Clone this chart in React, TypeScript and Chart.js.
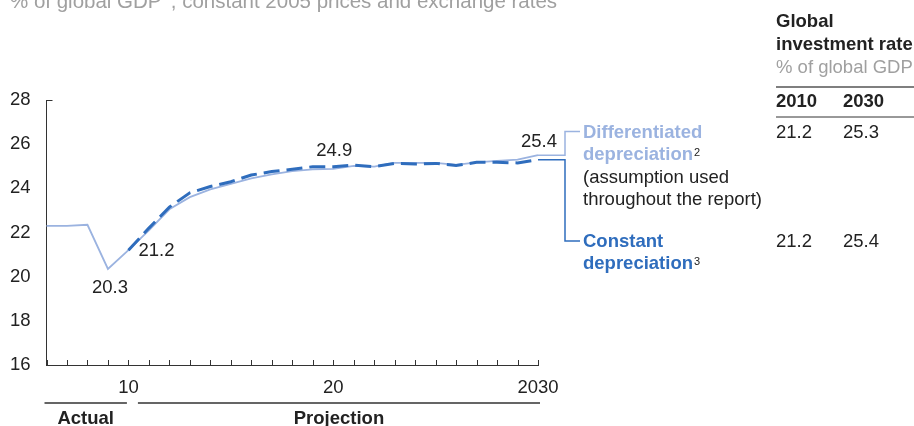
import React, { useEffect, useRef } from "react";
import { Chart, registerables } from "chart.js";
Chart.register(...registerables);

const years = [2006, 2007, 2008, 2009, 2010, 2011, 2012, 2013, 2014, 2015, 2016, 2017, 2018, 2019, 2020, 2021, 2022, 2023, 2024, 2025, 2026, 2027, 2028, 2029, 2030];
const differentiated = [22.3, 22.3, 22.35, 20.35, 21.2, 22.1, 23.05, 23.6, 23.95, 24.2, 24.45, 24.63, 24.78, 24.86, 24.88, 25.02, 24.98, 25.15, 25.15, 25.15, 25.06, 25.18, 25.24, 25.3, 25.5];
const constant = [null, null, null, null, 21.2, 22.2, 23.15, 23.8, 24.08, 24.3, 24.6, 24.76, 24.86, 24.98, 24.98, 25.05, 24.98, 25.13, 25.1, 25.13, 25.03, 25.18, 25.18, 25.15, 25.3];
const xTickLabels: Record<number, string> = { 2010: "10", 2020: "20", 2030: "2030" };
const yTicks = [16, 18, 20, 22, 24, 26, 28];
const tableYears = ["2010", "2030"];
const differentiatedTable = ["21.2", "25.3"];
const constantTable = ["21.2", "25.4"];
const pointLabels = [
  { year: 2009, series: "differentiated", text: "20.3" },
  { year: 2010, series: "constant", text: "21.2" },
  { year: 2020, series: "constant", text: "24.9" },
  { year: 2030, series: "differentiated", text: "25.4" },
];

const FONT = "'Liberation Sans', Arial, sans-serif";
const LIGHT = "#9bb3e0";
const DARK = "#2f6dbd";
const TEXT = "#222222";
const GRAY = "#a0a0a0";
const AXIS = "#333333";

function txt(ctx: CanvasRenderingContext2D, s: string, x: number, y: number, font: string, color: string, align: CanvasTextAlign = "left") {
  ctx.font = font;
  ctx.fillStyle = color;
  ctx.textAlign = align;
  ctx.textBaseline = "alphabetic";
  ctx.fillText(s, x, y);
  return ctx.measureText(s).width;
}

const overlay = {
  id: "overlay",
  afterDraw(chart: any) {
    const ctx: CanvasRenderingContext2D = chart.ctx;
    const xs = chart.scales.x;
    const ys = chart.scales.y;
    const area = chart.chartArea;
    const xp = (yr: number) => xs.getPixelForValue(years.indexOf(yr));
    const yv = (series: string, yr: number) => {
      const arr = series === "constant" ? constant : differentiated;
      return ys.getPixelForValue(arr[years.indexOf(yr)] as number);
    };
    const reg = `18.5px ${FONT}`;
    const bold = `bold 18.5px ${FONT}`;
    const sup = `11px ${FONT}`;

    ctx.save();
    // inward x ticks
    ctx.strokeStyle = AXIS;
    ctx.lineWidth = 1;
    ctx.beginPath();
    years.forEach((yr) => {
      const px = Math.round(xp(yr)) + 0.5;
      ctx.moveTo(px, area.bottom);
      ctx.lineTo(px, area.bottom - 5);
    });
    // top cap of y axis
    ctx.moveTo(area.left, Math.round(ys.getPixelForValue(28)) + 0.5);
    ctx.lineTo(area.left + 6, Math.round(ys.getPixelForValue(28)) + 0.5);
    ctx.stroke();

    // point labels
    pointLabels.forEach((p) => {
      const px = xp(p.year);
      const py = yv(p.series, p.year);
      if (p.text === "20.3") txt(ctx, p.text, px + 2, py + 24, reg, TEXT, "center");
      else if (p.text === "21.2") txt(ctx, p.text, px + 10, py + 5.5, reg, TEXT, "left");
      else if (p.text === "24.9") txt(ctx, p.text, px + 1, py - 11, reg, TEXT, "center");
      else txt(ctx, p.text, px + 1, py - 8, reg, TEXT, "center");
    });

    // brackets
    const endX = xp(2030);
    const bx = 565;
    const tx = 583;
    ctx.lineWidth = 1.5;
    ctx.strokeStyle = LIGHT;
    ctx.beginPath();
    ctx.moveTo(endX, yv("differentiated", 2030));
    ctx.lineTo(bx, yv("differentiated", 2030));
    ctx.lineTo(bx, 131.5);
    ctx.lineTo(580, 131.5);
    ctx.stroke();
    ctx.strokeStyle = DARK;
    ctx.beginPath();
    ctx.moveTo(endX, yv("constant", 2030));
    ctx.lineTo(bx, yv("constant", 2030));
    ctx.lineTo(bx, 241);
    ctx.lineTo(580, 241);
    ctx.stroke();

    // annotations
    txt(ctx, "Differentiated", tx, 138, bold, LIGHT);
    let w = txt(ctx, "depreciation", tx, 160, bold, LIGHT);
    txt(ctx, "2", tx + w + 1, 156, sup, TEXT);
    txt(ctx, "(assumption used", tx, 182.5, reg, TEXT);
    txt(ctx, "throughout the report)", tx, 205, reg, TEXT);
    txt(ctx, "Constant", tx, 246.5, bold, DARK);
    w = txt(ctx, "depreciation", tx, 268.5, bold, DARK);
    txt(ctx, "3", tx + w + 1, 264.5, sup, TEXT);

    // table
    const c1 = 776;
    const c2 = 843;
    txt(ctx, "Global", c1, 27, bold, TEXT);
    txt(ctx, "investment rate", c1, 50, bold, TEXT);
    txt(ctx, "% of global GDP", c1, 73, reg, GRAY);
    ctx.strokeStyle = "#555555";
    ctx.lineWidth = 1.5;
    ctx.beginPath();
    ctx.moveTo(c1, 87);
    ctx.lineTo(914, 87);
    ctx.stroke();
    txt(ctx, tableYears[0], c1, 107, bold, TEXT);
    txt(ctx, tableYears[1], c2, 107, bold, TEXT);
    ctx.strokeStyle = AXIS;
    ctx.lineWidth = 1;
    ctx.beginPath();
    ctx.moveTo(c1, 117);
    ctx.lineTo(914, 117);
    ctx.stroke();
    txt(ctx, differentiatedTable[0], c1, 137.5, reg, TEXT);
    txt(ctx, differentiatedTable[1], c2, 137.5, reg, TEXT);
    txt(ctx, constantTable[0], c1, 246.5, reg, TEXT);
    txt(ctx, constantTable[1], c2, 246.5, reg, TEXT);

    // subtitle (cut at top)
    const subF = `20.5px ${FONT}`;
    w = txt(ctx, "% of global GDP", 10, 8, subF, GRAY);
    const w2 = txt(ctx, "1", 10 + w + 1, 0, `13px ${FONT}`, GRAY);
    txt(ctx, ", constant 2005 prices and exchange rates", 10 + w + w2 + 2, 8, subF, GRAY);

    // Actual / Projection
    const lineY = 403;
    ctx.strokeStyle = AXIS;
    ctx.lineWidth = 1.3;
    ctx.beginPath();
    const aL = xp(2006) - 2;
    const aR = xp(2010) - 1.5;
    const pL = xp(2010) + 9.5;
    const pR = xp(2030) + 2;
    ctx.moveTo(aL, lineY);
    ctx.lineTo(aR, lineY);
    ctx.moveTo(pL, lineY);
    ctx.lineTo(pR, lineY);
    ctx.stroke();
    txt(ctx, "Actual", (aL + aR) / 2, 424, bold, TEXT, "center");
    txt(ctx, "Projection", (pL + pR) / 2, 424, bold, TEXT, "center");
    ctx.restore();
  },
};

export default function App() {
  const ref = useRef<HTMLCanvasElement | null>(null);
  useEffect(() => {
    if (!ref.current) return;
    const chart = new Chart(ref.current, {
      type: "line",
      data: {
        labels: years.map(String),
        datasets: [
          {
            label: "Constant depreciation",
            data: constant,
            borderColor: DARK,
            borderWidth: 3,
            borderDash: [16, 7],
            pointRadius: 0,
            tension: 0,
            fill: false,
          },
          {
            label: "Differentiated depreciation",
            data: differentiated,
            borderColor: LIGHT,
            borderWidth: 1.8,
            pointRadius: 0,
            tension: 0,
            fill: false,
          },
        ],
      },
      options: {
        responsive: false,
        devicePixelRatio: 1,
        animation: false,
        events: [],
        layout: { padding: { top: 100, right: 376, left: 0, bottom: 0 } },
        plugins: { legend: { display: false }, tooltip: { enabled: false }, title: { display: false } },
        scales: {
          x: {
            type: "category",
            offset: false,
            grid: { display: false, drawTicks: false },
            border: { display: true, color: AXIS, width: 1 },
            ticks: {
              autoSkip: false,
              maxRotation: 0,
              padding: 12,
              color: TEXT,
              font: { family: FONT, size: 18.5 },
              callback: (_v: any, i: number) => xTickLabels[years[i]] ?? "",
            },
            afterFit: (s: any) => {
              s.height = 61;
            },
          },
          y: {
            min: 16,
            max: 28,
            afterBuildTicks: (s: any) => {
              s.ticks = yTicks.map((v) => ({ value: v }));
            },
            grid: { display: false, drawTicks: false },
            border: { display: true, color: AXIS, width: 1 },
            ticks: {
              padding: 16,
              color: TEXT,
              font: { family: FONT, size: 18.5 },
            },
            afterFit: (s: any) => {
              s.width = 46.5;
            },
          },
        },
      },
      plugins: [overlay],
    });
    return () => chart.destroy();
  }, []);
  return (
    <div style={{ position: "absolute", left: 0, top: 0, width: 914, height: 426, background: "#fff" }}>
      <canvas ref={ref} width={914} height={426} style={{ display: "block" }} />
    </div>
  );
}
